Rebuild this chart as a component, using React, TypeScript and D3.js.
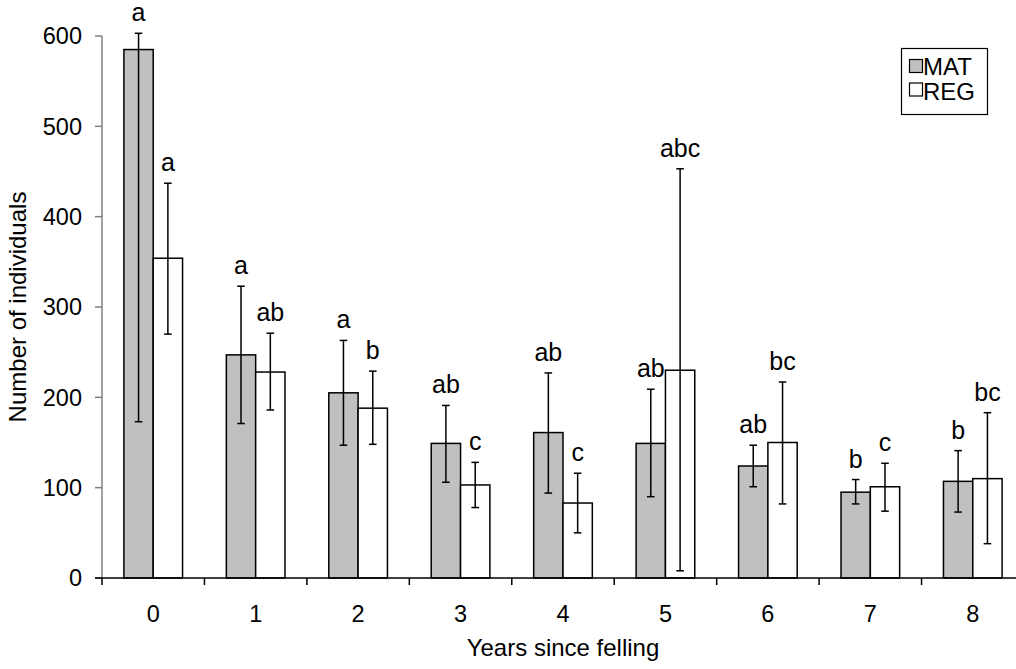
import React from "react";
import * as d3 from "d3";

const years = ["0", "1", "2", "3", "4", "5", "6", "7", "8"];
const series = ["MAT", "REG"];
const matValues = [585, 247, 205, 149, 161, 149, 124, 95, 107];
const matUpper = [603, 323, 263, 191, 227, 209, 147, 109, 141];
const matLower = [173, 171, 147, 106, 94, 90, 101, 82, 73];
const matLetters = ["a", "a", "a", "ab", "ab", "ab", "ab", "b", "b"];
const regValues = [354, 228, 188, 103, 83, 230, 150, 101, 110];
const regUpper = [437, 271, 229, 128, 116, 453, 217, 127, 183];
const regLower = [270, 186, 148, 78, 50, 8, 82, 74, 38];
const regLetters = ["a", "ab", "b", "c", "c", "abc", "bc", "c", "bc"];
const yTicks = [0, 100, 200, 300, 400, 500, 600];

const FONT = "Arial, 'Liberation Sans', Helvetica, sans-serif";

export default function App() {
  const W = 1016;
  const H = 669;
  const left = 102;
  const right = 1024;
  const top = 36;
  const bottom = 578;

  const x = d3.scaleBand<string>().domain(years).range([left, right]).padding(0);
  const xs = d3
    .scaleBand<string>()
    .domain(series)
    .range([0, x.bandwidth()])
    .paddingInner(0)
    .paddingOuter(0.747);
  const y = d3.scaleLinear().domain([0, 600]).range([bottom, top]);

  const data = series.map((s) => ({
    key: s,
    fill: s === "MAT" ? "#C0C0C0" : "#FFFFFF",
    values: s === "MAT" ? matValues : regValues,
    upper: s === "MAT" ? matUpper : regUpper,
    lower: s === "MAT" ? matLower : regLower,
    letters: s === "MAT" ? matLetters : regLetters,
  }));

  const bw = xs.bandwidth();
  const capHalf = 3.8;

  return (
    <svg
      width={W}
      height={H}
      style={{ position: "absolute", left: 0, top: 0, background: "#fff" }}
      fontFamily={FONT}
    >
      {/* bars */}
      {data.map((s) =>
        years.map((yr, i) => {
          const bx = (x(yr) as number) + (xs(s.key) as number);
          return (
            <rect
              key={s.key + yr}
              x={bx}
              y={y(s.values[i])}
              width={bw}
              height={y(0) - y(s.values[i])}
              fill={s.fill}
              stroke="#000"
              strokeWidth={1.5}
            />
          );
        })
      )}
      {/* error bars */}
      {data.map((s) =>
        years.map((yr, i) => {
          const cx = (x(yr) as number) + (xs(s.key) as number) + bw / 2;
          const yt = y(s.upper[i]);
          const yb = y(s.lower[i]);
          return (
            <g key={"e" + s.key + yr} stroke="#000" strokeWidth={1.5}>
              <line x1={cx} x2={cx} y1={yt} y2={yb} />
              <line x1={cx - capHalf} x2={cx + capHalf} y1={yt} y2={yt} />
              <line x1={cx - capHalf} x2={cx + capHalf} y1={yb} y2={yb} />
            </g>
          );
        })
      )}
      {/* letters */}
      {data.map((s) =>
        years.map((yr, i) => {
          const cx = (x(yr) as number) + (xs(s.key) as number) + bw / 2;
          return (
            <text
              key={"l" + s.key + yr}
              x={cx}
              y={y(s.upper[i]) - 12}
              textAnchor="middle"
              fontSize={25}
              fill="#000"
            >
              {s.letters[i]}
            </text>
          );
        })
      )}
      {/* y axis */}
      <line x1={left} x2={left} y1={top} y2={bottom} stroke="#808080" strokeWidth={1.5} />
      {yTicks.map((t) => (
        <g key={"yt" + t}>
          <line x1={left - 7} x2={left} y1={y(t)} y2={y(t)} stroke="#808080" strokeWidth={1.5} />
          <text
            x={left - 20}
            y={y(t)}
            dy="0.35em"
            textAnchor="end"
            fontSize={23.5}
            fill="#000"
          >
            {t}
          </text>
        </g>
      ))}
      {/* x axis */}
      <line x1={left - 7} x2={W} y1={bottom} y2={bottom} stroke="#000" strokeWidth={1.5} />
      {years.map((yr, i) => (
        <line
          key={"xt" + yr}
          x1={(x(yr) as number)}
          x2={(x(yr) as number)}
          y1={bottom}
          y2={bottom + 7}
          stroke="#000"
          strokeWidth={1.5}
        />
      ))}
      {years.map((yr) => (
        <text
          key={"xl" + yr}
          x={(x(yr) as number) + x.bandwidth() / 2}
          y={622}
          textAnchor="middle"
          fontSize={23.5}
          fill="#000"
        >
          {yr}
        </text>
      ))}
      {/* axis titles */}
      <text
        x={(left + right) / 2}
        y={656}
        textAnchor="middle"
        fontSize={24}
        fill="#000"
      >
        Years since felling
      </text>
      <text
        transform={`translate(26, ${(top + bottom) / 2}) rotate(-90)`}
        textAnchor="middle"
        fontSize={24}
        fill="#000"
      >
        Number of individuals
      </text>
      {/* legend */}
      <g>
        <rect x={901.5} y={48.5} width={86} height={66} fill="#fff" stroke="#000" strokeWidth={1.2} />
        {data.map((s, i) => (
          <g key={"lg" + s.key}>
            <rect
              x={909.5}
              y={59.5 + i * 23.5}
              width={13}
              height={13}
              fill={s.fill}
              stroke="#000"
              strokeWidth={1.2}
            />
            <text x={923} y={75 + i * 24.5} fontSize={24} fill="#000">
              {s.key}
            </text>
          </g>
        ))}
      </g>
    </svg>
  );
}
